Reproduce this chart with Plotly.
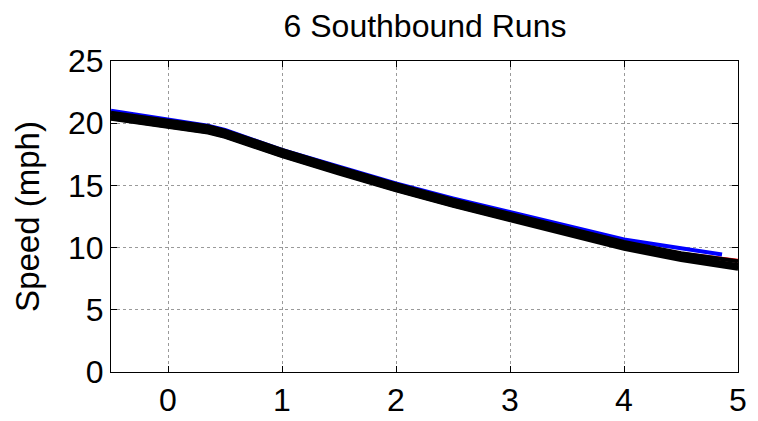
import plotly.graph_objects as go

# Distance (x) sample points
x_pts = [-0.5, 0, 0.2, 0.35, 0.5, 0.7, 1, 1.5, 2, 2.5, 3, 3.5, 4, 4.5, 5]

# Speeds (mph) for the six southbound runs
run_black1 = [20.85, 20.25, 20.0, 19.75, 19.4, 18.75, 17.85, 16.45, 15.1, 13.85, 12.7, 11.55, 10.45, 9.55, 8.9]
run_black2 = [20.6, 20.0, 19.75, 19.5, 19.15, 18.5, 17.6, 16.2, 14.85, 13.6, 12.45, 11.3, 10.2, 9.3, 8.6]
run_black3 = [20.4, 19.8, 19.55, 19.3, 18.95, 18.3, 17.4, 16.0, 14.65, 13.4, 12.25, 11.1, 10.0, 9.1, 8.4]
run_black4 = [20.35, 19.75, 19.5, 19.25, 18.9, 18.25, 17.35, 15.95, 14.6, 13.35, 12.2, 11.0, 9.9, 9.0, 8.3]
run_red = [20.8, 20.2, 19.95, 19.7, 19.35, 18.7, 17.75, 16.35, 15.0, 13.8, 12.65, 11.5, 10.4, 9.5, 8.95]

x_blue = [-0.5, 0, 0.2, 0.35, 0.5, 0.7, 1, 1.5, 2, 2.5, 3, 3.5, 4, 4.5, 4.86]
run_blue = [21.0, 20.3, 20.05, 19.8, 19.45, 18.8, 17.85, 16.5, 15.15, 13.95, 12.85, 11.75, 10.65, 9.95, 9.45]

x_ticks = [0, 1, 2, 3, 4, 5]
y_ticks = [0, 5, 10, 15, 20, 25]

fig = go.Figure()
fig.add_trace(go.Scatter(x=x_pts, y=run_red, mode="lines",
                         line=dict(color="#ff0000", width=4), showlegend=False))
fig.add_trace(go.Scatter(x=x_blue, y=run_blue, mode="lines",
                         line=dict(color="#0000ff", width=4), showlegend=False))
for r in [run_black1, run_black2, run_black3, run_black4]:
    fig.add_trace(go.Scatter(x=x_pts, y=r, mode="lines",
                             line=dict(color="#000000", width=4), showlegend=False))

font = "Liberation Sans, Arial, sans-serif"
axis_common = dict(
    showline=True, linecolor="black", linewidth=1, mirror="ticks",
    ticks="inside", ticklen=6, tickcolor="black",
    showgrid=True, gridcolor="#9a9a9a", griddash="dot", gridwidth=1,
    zeroline=False, automargin=False,
    tickfont=dict(family=font, size=32, color="black"),
)

fig.update_layout(
    width=750, height=413,
    margin=dict(l=103, r=20, t=53, b=49),
    paper_bgcolor="white", plot_bgcolor="white",
    title=dict(text="6 Southbound Runs", x=0.556, xanchor="center", y=0.958, yanchor="middle",
               font=dict(family=font, size=32, color="black")),
    xaxis=dict(range=[-0.5, 5], tickvals=x_ticks, **axis_common),
    yaxis=dict(range=[0, 25], tickvals=y_ticks,
               title=dict(text="Speed (mph)", font=dict(family=font, size=33, color="black"), standoff=18),
               **axis_common),
)

fig.write_html("out.html")
